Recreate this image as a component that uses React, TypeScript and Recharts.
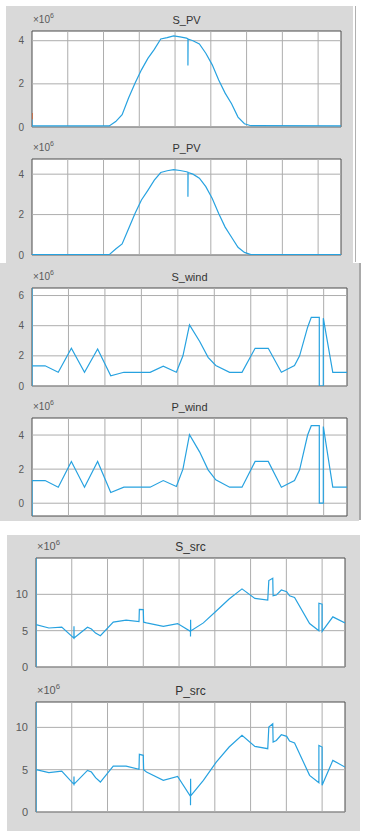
import React from 'react';
import { LineChart, Line, XAxis, YAxis, ReferenceLine, ReferenceArea } from 'recharts';

// time axis: one day in seconds, grid every 10000 s (MATLAB auto ticks, unlabeled)
const xTicks = [10000, 20000, 30000, 40000, 50000, 60000, 70000, 80000];
const xDomain: [number, number] = [0, 86400];

// PV (x1e6)
const pvTime = [0, 0, 21600, 23400, 25200, 27000, 28800, 30600, 32400, 34200, 36000, 37800, 39600, 41400, 43200, 43600, 43600, 43650, 45000, 46800, 48600, 50400, 52200, 54000, 55800, 57600, 59400, 61200, 86400];
const sPV = [0.35, 0.05, 0.05, 0.25, 0.57, 1.34, 2.03, 2.65, 3.18, 3.6, 4.08, 4.14, 4.22, 4.18, 4.12, 4.09, 2.85, 4.08, 4.0, 3.85, 3.42, 2.88, 2.18, 1.57, 1.08, 0.46, 0.15, 0.06, 0.05];
const pPV = [0.02, 0.02, 0.02, 0.3, 0.55, 1.3, 2.05, 2.72, 3.2, 3.7, 4.08, 4.17, 4.22, 4.18, 4.12, 4.1, 2.88, 4.08, 4.0, 3.8, 3.38, 2.8, 2.05, 1.38, 0.88, 0.38, 0.13, 0.02, 0.02];
const sPVAux = [0.65, 0.35]; // short orange trace at t=0

// wind (x1e6)
const windTime = [0, 0, 0, 3600, 7200, 10800, 14400, 18000, 21600, 25200, 32400, 36000, 39600, 41400, 43200, 46000, 48300, 50400, 54200, 57600, 61200, 64800, 68400, 72000, 73400, 75600, 76600, 78800, 78800, 79900, 79900, 82500, 86400];
const sWind = [0, 6.5, 1.34, 1.34, 0.91, 2.5, 0.91, 2.45, 0.68, 0.91, 0.91, 1.32, 0.91, 2.0, 4.05, 2.95, 1.9, 1.36, 0.91, 0.91, 2.5, 2.5, 0.91, 1.36, 2.0, 3.9, 4.55, 4.55, 0, 0, 4.5, 0.91, 0.91];
const pWind = [-0.75, -0.75, 1.33, 1.33, 0.94, 2.45, 0.94, 2.45, 0.63, 0.94, 0.94, 1.33, 0.98, 2.0, 4.02, 3.0, 1.96, 1.37, 0.94, 0.94, 2.45, 2.45, 0.94, 1.33, 1.96, 4.0, 4.55, 4.55, 0, 0, 4.5, 0.94, 0.94];

// source (x1e6)
const srcTime = [0, 0, 0, 3600, 7200, 10600, 10620, 10650, 14400, 15500, 16650, 18000, 21600, 25200, 28800, 28900, 30000, 30100, 30900, 35600, 39600, 43200, 43200, 43230, 43260, 46800, 50400, 54000, 57600, 61200, 64800, 65100, 66200, 66300, 67200, 68600, 70100, 70900, 72300, 76500, 79100, 79100, 80000, 80000, 83000, 86400];
const sSrc = [0, 15, 5.84, 5.37, 5.5, 3.97, 5.6, 4.0, 5.47, 5.23, 4.67, 4.3, 6.17, 6.45, 6.26, 7.94, 7.9, 6.17, 6.07, 5.6, 5.98, 4.9, 4.2, 6.5, 4.95, 6.07, 7.7, 9.35, 10.75, 9.44, 9.2, 11.9, 12.2, 9.8, 9.9, 10.6, 10.37, 9.8, 9.58, 5.98, 5.0, 8.78, 8.64, 4.9, 6.9, 6.07];
const pSrc = [0, 13, 5.0, 4.65, 4.84, 3.27, 4.2, 3.3, 4.92, 4.72, 4.06, 3.54, 5.43, 5.43, 5.04, 6.81, 6.7, 5.0, 4.72, 3.74, 4.2, 1.85, 0.79, 3.94, 1.9, 3.74, 5.9, 7.68, 9.06, 7.76, 7.48, 10.04, 10.43, 8.27, 8.46, 9.13, 8.94, 8.39, 8.15, 4.33, 3.46, 7.87, 7.68, 3.15, 6.1, 5.31];

const pvRows = pvTime.map((t, i) => ({ t, s: sPV[i], p: pPV[i], aux: i < sPVAux.length ? sPVAux[i] : null }));
const windRows = windTime.map((t, i) => ({ t, s: sWind[i], p: pWind[i] }));
const srcRows = srcTime.map((t, i) => ({ t, s: sSrc[i], p: pSrc[i] }));

const FONT = '"Liberation Sans", Arial, Helvetica, sans-serif';
const BLUE = '#27a2e0';
const GRID = '#adadad';
const BOX = '#4a4a4a';

type Box = { left: number; top: number; right: number; bottom: number };

interface PanelProps {
  title: string;
  rows: any[];
  dataKey: string;
  box: Box;
  domain: [number, number];
  yTicks: number[];
  fontSize: number;
  titleSize: number;
  aux?: boolean;
}

const Panel: React.FC<PanelProps> = ({ title, rows, dataKey, box, domain, yTicks, fontSize, titleSize, aux }) => {
  const padTop = 30;
  const padBottom = 10;
  const padRight = 10;
  const yW = 30;
  const width = box.right + padRight;
  const height = box.bottom - box.top + padTop + padBottom;
  return (
    <>
      <div style={{ position: 'absolute', left: 0, top: box.top - padTop }}>
        <LineChart width={width} height={height} data={rows} margin={{ top: padTop, right: padRight, bottom: padBottom, left: box.left - yW }}>
          <XAxis type="number" dataKey="t" domain={xDomain} hide allowDataOverflow />
          <YAxis
            type="number"
            domain={domain}
            ticks={yTicks}
            width={yW}
            allowDataOverflow
            axisLine={false}
            tickLine={false}
            tick={{ fill: '#5a5a5a', fontSize, fontFamily: FONT }}
          />
          <ReferenceArea x1={xDomain[0]} x2={xDomain[1]} y1={domain[0]} y2={domain[1]} fill="#ffffff" fillOpacity={1} stroke="none" />
          {xTicks.map((x) => (
            <ReferenceLine key={'x' + x} x={x} stroke={GRID} strokeWidth={1} />
          ))}
          {yTicks.map((y) => (
            <ReferenceLine key={'y' + y} y={y} stroke={GRID} strokeWidth={1} />
          ))}
          <ReferenceArea x1={xDomain[0]} x2={xDomain[1]} y1={domain[0]} y2={domain[1]} fill="none" stroke={BOX} strokeWidth={1} />
          {aux && <Line dataKey="aux" stroke="#d95319" strokeWidth={1.2} dot={false} isAnimationActive={false} connectNulls={false} />}
          <Line type="linear" dataKey={dataKey} stroke={BLUE} strokeWidth={1.2} dot={false} isAnimationActive={false} />
        </LineChart>
      </div>
      <div
        style={{
          position: 'absolute',
          left: box.left,
          width: box.right - box.left,
          top: box.top - titleSize - 5,
          textAlign: 'center',
          fontFamily: FONT,
          fontSize: titleSize,
          lineHeight: titleSize + 'px',
          color: '#333333',
        }}
      >
        {title}
      </div>
      <div
        style={{
          position: 'absolute',
          left: box.left + 1,
          top: box.top - fontSize - 6,
          fontFamily: FONT,
          fontSize,
          lineHeight: fontSize + 'px',
          color: '#5a5a5a',
          whiteSpace: 'nowrap',
        }}
      >
        ×10<sup style={{ fontSize: fontSize * 0.7, verticalAlign: 'top', position: 'relative', top: -4 }}>6</sup>
      </div>
    </>
  );
};

export default function App() {
  return (
    <div style={{ position: 'absolute', left: 0, top: 0, width: 369, height: 840, background: '#ffffff', overflow: 'hidden' }}>
      {/* figure windows */}
      <div style={{ position: 'absolute', left: 0, top: 263, width: 359, height: 258, background: '#d9d9d9' }} />
      <div style={{ position: 'absolute', left: 359, top: 263, width: 2, height: 257, background: '#a9a9a9' }} />
      <div style={{ position: 'absolute', left: 6, top: 6, width: 347, height: 257, background: '#d9d9d9' }} />
      <div style={{ position: 'absolute', left: 355, top: 6, width: 1, height: 256, background: '#b0b0b0' }} />
      <div style={{ position: 'absolute', left: 7, top: 535, width: 353, height: 296, background: '#d9d9d9' }} />

      <Panel title="S_PV" rows={pvRows} dataKey="s" aux box={{ left: 32, top: 31, right: 341, bottom: 127 }} domain={[0, 4.45]} yTicks={[0, 2, 4]} fontSize={10} titleSize={11} />
      <Panel title="P_PV" rows={pvRows} dataKey="p" box={{ left: 32, top: 159, right: 341, bottom: 255 }} domain={[0, 4.75]} yTicks={[0, 2, 4]} fontSize={10} titleSize={11} />
      <Panel title="S_wind" rows={windRows} dataKey="s" box={{ left: 32, top: 288, right: 347, bottom: 386 }} domain={[0, 6.5]} yTicks={[0, 2, 4, 6]} fontSize={10} titleSize={11} />
      <Panel title="P_wind" rows={windRows} dataKey="p" box={{ left: 32, top: 418, right: 347, bottom: 516 }} domain={[-0.75, 5]} yTicks={[0, 2, 4]} fontSize={10} titleSize={11} />
      <Panel title="S_src" rows={srcRows} dataKey="s" box={{ left: 36, top: 558, right: 345, bottom: 667 }} domain={[0, 15]} yTicks={[0, 5, 10]} fontSize={11} titleSize={12} />
      <Panel title="P_src" rows={srcRows} dataKey="p" box={{ left: 36, top: 702, right: 345, bottom: 812 }} domain={[0, 13]} yTicks={[0, 5, 10]} fontSize={11} titleSize={12} />
    </div>
  );
}
